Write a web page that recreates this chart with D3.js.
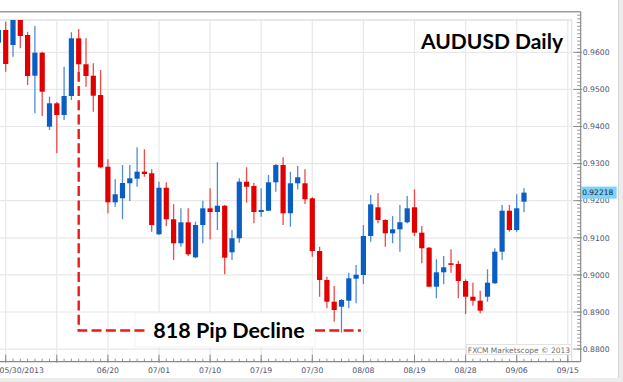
<!DOCTYPE html>
<html>
<head>
<meta charset="utf-8">
<script src="https://cdn.jsdelivr.net/npm/d3@7/dist/d3.min.js"></script>
<style>
  body { margin: 0; background: #fff; }
  svg { display: block; }
</style>
</head>
<body>
<div id="chart"></div>
<script>
// daily AUDUSD candles, oldest first (index 0 is the partly hidden one on the left edge)
var opens = [0.96259, 0.96601, 0.96197, 0.96898, 0.96466, 0.95369, 0.95989, 0.93995, 0.94625, 0.94310,
  0.94822, 0.96377, 0.95677, 0.95369, 0.94849, 0.92916, 0.91957, 0.92065, 0.92469, 0.92593,
  0.92782, 0.92739, 0.91094, 0.92350, 0.91499, 0.90852, 0.91418, 0.90474, 0.91345, 0.91795,
  0.91695, 0.91865, 0.90609, 0.90987, 0.92512, 0.92396, 0.91695, 0.91730, 0.92496, 0.92962,
  0.91660, 0.92469, 0.92469, 0.92065, 0.90644, 0.89863, 0.89278, 0.89143, 0.89305, 0.89898,
  0.89997, 0.91049, 0.91822, 0.91480, 0.91121, 0.91229, 0.91418, 0.91822, 0.91138, 0.90733,
  0.89682, 0.90070, 0.90313, 0.90294, 0.89836, 0.89412, 0.89305, 0.89412, 0.89774, 0.90625,
  0.91730, 0.91210, 0.91973];
var highs = [0.96628, 0.96825, 0.97032, 0.97005, 0.96555, 0.96709, 0.96016, 0.94803, 0.94660, 0.95612,
  0.96539, 0.96628, 0.96377, 0.95704, 0.95523, 0.93116, 0.92577, 0.92962, 0.92962, 0.93439,
  0.93385, 0.92846, 0.92512, 0.92496, 0.91903, 0.91795, 0.91795, 0.91434, 0.92000, 0.92334,
  0.93035, 0.91884, 0.91210, 0.92604, 0.92900, 0.92485, 0.92334, 0.92693, 0.92989, 0.93170,
  0.92782, 0.92935, 0.92846, 0.92092, 0.90760, 0.89952, 0.89701, 0.89350, 0.90059, 0.90267,
  0.91345, 0.92154, 0.92199, 0.91499, 0.91588, 0.91884, 0.92127, 0.92307, 0.91318, 0.90752,
  0.90421, 0.90509, 0.90690, 0.90383, 0.89881, 0.89790, 0.89574, 0.90151, 0.90717, 0.91884,
  0.91884, 0.92173, 0.92334];
var lows = [0.96224, 0.95477, 0.95881, 0.96108, 0.95119, 0.94356, 0.94283, 0.93906, 0.93278, 0.94175,
  0.94714, 0.95477, 0.95073, 0.94399, 0.92873, 0.91660, 0.91838, 0.91499, 0.91992, 0.92377,
  0.92647, 0.91164, 0.91080, 0.91318, 0.90402, 0.90760, 0.90509, 0.90447, 0.90852, 0.90960,
  0.91210, 0.90016, 0.90402, 0.90868, 0.91946, 0.91391, 0.91569, 0.91722, 0.92243, 0.91345,
  0.91299, 0.92307, 0.91911, 0.90491, 0.89412, 0.89100, 0.88739, 0.88448, 0.89100, 0.89235,
  0.89755, 0.90895, 0.91391, 0.90760, 0.90852, 0.90625, 0.91391, 0.91049, 0.90313, 0.89674,
  0.89369, 0.89747, 0.90059, 0.89369, 0.88946, 0.89170, 0.88965, 0.89278, 0.89755, 0.90402,
  0.91164, 0.91164, 0.91687];
var closes = [0.96601, 0.95685, 0.96951, 0.96439, 0.95361, 0.95989, 0.94938, 0.94625, 0.94310, 0.94822,
  0.96377, 0.95677, 0.95361, 0.94830, 0.92900, 0.91957, 0.92173, 0.92477, 0.92604, 0.92782,
  0.92720, 0.91345, 0.92350, 0.91499, 0.90852, 0.91418, 0.90555, 0.91345, 0.91795, 0.91695,
  0.91865, 0.90464, 0.90987, 0.92512, 0.92377, 0.91695, 0.91749, 0.92496, 0.92962, 0.91660,
  0.92469, 0.92631, 0.92038, 0.90644, 0.89863, 0.89278, 0.89054, 0.89323, 0.89908, 0.90005,
  0.91049, 0.91903, 0.91480, 0.91121, 0.91229, 0.91418, 0.91795, 0.91138, 0.90717, 0.89682,
  0.90070, 0.90205, 0.90275, 0.89836, 0.89412, 0.89305, 0.89035, 0.89790, 0.90625, 0.91730,
  0.91210, 0.91795, 0.92218];

// date axis: candle index of each labelled gridline
var dateTickIdx = [1, 8, 15, 22, 29, 36, 43, 50, 57, 64, 71, 78];
var dateTickLabels = ["05/30/2013", "", "06/20", "07/01", "07/10", "07/19", "07/30", "08/08", "08/19", "08/28", "09/06", "09/15"];
var priceTicks = [0.88, 0.89, 0.90, 0.91, 0.92, 0.93, 0.94, 0.95, 0.96];

var chartTitle = "AUDUSD Daily";
var lastPrice = 0.92218;
var declineText = "818 Pip Decline";
var declineFromIdx = 11, declineToIdx = 50, declineLevel = 0.8850;

var width = 623, height = 382;
var plotLeft = 0, plotRight = 571.7, plotTop = 20, axisY = 361.7, axisX = 580.7;
var fontTick = "'DejaVu Sans', Verdana, sans-serif";
var fontBig = "Lato, 'Open Sans', sans-serif";
var RED = "#e10000", BLUE = "#0a5ec2";

var candles = opens.map(function(o, i) {
  return { i: i, open: o, high: highs[i], low: lows[i], close: closes[i] };
});

var x = d3.scaleLinear().domain([1, 78]).range([5.7, 567.8]);
var y = d3.scaleLinear().domain([0.88, 0.96]).range([349.1, 52.3]);

var svg = d3.select("#chart").append("svg")
  .attr("width", width)
  .attr("height", height);

svg.append("rect").attr("width", width).attr("height", height).attr("fill", "#fff");

// grey window edges right and bottom
svg.append("rect").attr("x", 619).attr("y", 0).attr("width", 4).attr("height", height).attr("fill", "#ececec");
svg.append("line").attr("x1", 618.5).attr("x2", 618.5).attr("y1", 0).attr("y2", height).attr("stroke", "#d6d6d6");
svg.append("rect").attr("x", 0).attr("y", 378).attr("width", width).attr("height", 4).attr("fill", "#ececec");

svg.append("defs").append("clipPath").attr("id", "plotclip")
  .append("rect")
  .attr("x", plotLeft).attr("y", plotTop)
  .attr("width", plotRight - plotLeft).attr("height", axisY - plotTop);

// gridlines
var grid = svg.append("g").attr("clip-path", "url(#plotclip)");
grid.selectAll(".hgrid")
  .data(priceTicks)
  .enter().append("line")
  .attr("x1", plotLeft).attr("x2", plotRight)
  .attr("y1", function(d) { return y(d); })
  .attr("y2", function(d) { return y(d); })
  .attr("stroke", "#e8e8e8").attr("stroke-width", 1.2);
grid.selectAll(".vgrid")
  .data(dateTickIdx)
  .enter().append("line")
  .attr("x1", function(d) { return x(d); })
  .attr("x2", function(d) { return x(d); })
  .attr("y1", plotTop).attr("y2", axisY)
  .attr("stroke", "#e8e8e8").attr("stroke-width", 1.2);

// frame lines
svg.append("line").attr("x1", 0).attr("x2", axisX).attr("y1", 11.7).attr("y2", 11.7)
  .attr("stroke", "#9c9c9c").attr("stroke-width", 1.4);
svg.append("line").attr("x1", 0).attr("x2", plotRight).attr("y1", plotTop).attr("y2", plotTop)
  .attr("stroke", "#dbe2eb").attr("stroke-width", 1.6);
svg.append("line").attr("x1", plotRight).attr("x2", plotRight).attr("y1", plotTop).attr("y2", axisY)
  .attr("stroke", "#dbe2eb").attr("stroke-width", 1.2);

// candles
var cg = svg.append("g").attr("clip-path", "url(#plotclip)");
var c = cg.selectAll(".candle")
  .data(candles)
  .enter().append("g")
  .attr("class", "candle");

c.append("line")
  .attr("x1", function(d) { return x(d.i); })
  .attr("x2", function(d) { return x(d.i); })
  .attr("y1", function(d) { return y(d.high); })
  .attr("y2", function(d) { return y(d.low); })
  .attr("stroke", function(d) { return d.close >= d.open ? "#4f8bd6" : "#ee4a4a"; })
  .attr("stroke-width", 1.3);

c.append("rect")
  .attr("x", function(d) { return x(d.i) - 2.6; })
  .attr("width", 5.2)
  .attr("y", function(d) { return y(Math.max(d.open, d.close)); })
  .attr("height", function(d) { return Math.max(1.6, Math.abs(y(d.open) - y(d.close))); })
  .attr("fill", function(d) { return d.close >= d.open ? BLUE : RED; });

// price axis
var pa = svg.append("g");
pa.append("line").attr("x1", axisX).attr("x2", axisX).attr("y1", 11.7).attr("y2", axisY)
  .attr("stroke", "#8a8a8a").attr("stroke-width", 1.2);
var minorPrice = d3.range(880, 971).map(function(k) { return k / 1000; });
pa.selectAll(".pminor")
  .data(minorPrice)
  .enter().append("line")
  .attr("x1", axisX - 3.5).attr("x2", axisX)
  .attr("y1", function(d) { return y(d); })
  .attr("y2", function(d) { return y(d); })
  .attr("stroke", "#8a8a8a").attr("stroke-width", 0.9);
pa.selectAll(".pmajor")
  .data(priceTicks)
  .enter().append("line")
  .attr("x1", axisX - 7.5).attr("x2", axisX + 1.5)
  .attr("y1", function(d) { return y(d); })
  .attr("y2", function(d) { return y(d); })
  .attr("stroke", "#8a8a8a").attr("stroke-width", 1);
pa.selectAll(".plabel")
  .data(priceTicks)
  .enter().append("text")
  .attr("x", axisX + 2)
  .attr("y", function(d) { return y(d); })
  .attr("dy", "0.36em")
  .attr("font-family", fontTick)
  .attr("font-size", 7.7)
  .attr("fill", "#4e5672")
  .text(function(d) { return d.toFixed(4); });

// last price tag
var tag = svg.append("g").attr("transform", "translate(0," + y(lastPrice) + ")");
tag.append("rect").attr("x", axisX + 0.5).attr("y", -6).attr("width", 35.5).attr("height", 12).attr("fill", "#7fd4f6");
tag.append("text").attr("x", axisX + 1.5).attr("dy", "0.36em")
  .attr("font-family", fontTick).attr("font-size", 7.5).attr("fill", "#15233d")
  .text(lastPrice.toFixed(5));

// date axis
var da = svg.append("g");
da.append("line").attr("x1", 0).attr("x2", axisX).attr("y1", axisY).attr("y2", axisY)
  .attr("stroke", "#8a8a8a").attr("stroke-width", 1.2);
da.selectAll(".dminor")
  .data(d3.range(0, 79))
  .enter().append("line")
  .attr("x1", function(d) { return x(d); })
  .attr("x2", function(d) { return x(d); })
  .attr("y1", axisY - 3).attr("y2", axisY)
  .attr("stroke", "#8a8a8a").attr("stroke-width", 0.9);
da.selectAll(".dmajor")
  .data(dateTickIdx)
  .enter().append("line")
  .attr("x1", function(d) { return x(d); })
  .attr("x2", function(d) { return x(d); })
  .attr("y1", axisY - 7).attr("y2", axisY + 1)
  .attr("stroke", "#8a8a8a").attr("stroke-width", 1);
da.selectAll(".dlabel")
  .data(dateTickIdx)
  .enter().append("text")
  .attr("x", function(d, i) { return i === 0 ? x(d) - 6.2 : x(d); })
  .attr("y", axisY + 11)
  .attr("text-anchor", function(d, i) { return i === 0 ? "start" : "middle"; })
  .attr("font-family", fontTick)
  .attr("font-size", 7.7)
  .attr("fill", "#4e5672")
  .text(function(d, i) { return dateTickLabels[i]; });

// watermark
svg.append("rect").attr("x", 466.5).attr("y", 344.5).attr("width", 105).attr("height", 10)
  .attr("fill", "#fff").attr("stroke", "#e2e2e2");
svg.append("text").attr("x", 570).attr("y", 352.5).attr("text-anchor", "end")
  .attr("font-family", fontTick).attr("font-size", 7.5).attr("fill", "#6e6e6e")
  .text("FXCM Marketscope \u00a9 2013");

// title
svg.append("text").attr("x", 563).attr("y", 49.3).attr("text-anchor", "end")
  .attr("font-family", fontBig).attr("font-weight", 700).attr("font-size", 21)
  .attr("fill", "#000")
  .text(chartTitle);

// decline annotation
var lvl = y(declineLevel);
var ann = svg.append("g");
ann.append("rect").attr("x", 135).attr("y", 313).attr("width", 180).attr("height", 34)
  .attr("fill", "#fff").attr("stroke", "#f3f3f3");
ann.append("path")
  .attr("d", "M" + x(declineFromIdx) + "," + y(lows[declineFromIdx]) + " V" + lvl + " H148")
  .attr("fill", "none").attr("stroke", "#f01818").attr("stroke-width", 2.4)
  .attr("stroke-dasharray", "10,4.3");
ann.append("line")
  .attr("x1", 315).attr("x2", x(declineToIdx) - 2.5)
  .attr("y1", lvl).attr("y2", lvl)
  .attr("stroke", "#f01818").attr("stroke-width", 2.4)
  .attr("stroke-dasharray", "10,4.3");
ann.append("text").attr("x", 229).attr("y", lvl + 7.5).attr("text-anchor", "middle")
  .attr("font-family", fontBig).attr("font-weight", 700).attr("font-size", 21.5)
  .attr("fill", "#000")
  .text(declineText);
</script>
</body>
</html>
